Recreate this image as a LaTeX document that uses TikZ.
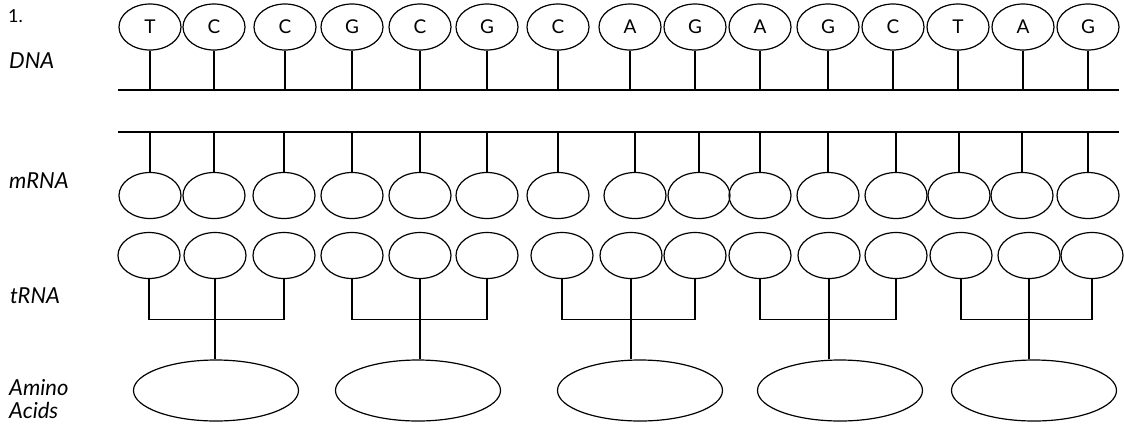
\documentclass[tikz,border=0pt]{standalone}
\usepackage{fontspec}
\setmainfont{Lato}
\usetikzlibrary{shapes.geometric}
\begin{document}
\begin{tikzpicture}[x=1pt,y=-1pt]
    \tikzstyle{nucleo}=[draw,line width=1.2pt,ellipse,inner sep=0pt,minimum width=62pt,minimum height=46pt,font=\fontsize{19}{19}\selectfont]
    \tikzstyle{amino}=[draw,line width=1.2pt,ellipse,inner sep=0pt,minimum width=165pt,minimum height=61pt]
    \tikzstyle{rowname}=[anchor=base west,inner sep=0pt,font=\fontsize{22}{22}\selectfont\itshape]
    \tikzstyle{strand}=[line width=1.2pt]

    \useasboundingbox (0,0) rectangle (1124,424);

    \node[anchor=base west,inner sep=0pt,font=\fontsize{18}{18}\selectfont] (num) at (8,22) {1.};
    \node[rowname] (dnalab) at (9,68) {DNA};
    \node[rowname] (mrnalab) at (9,188) {mRNA};
    \node[rowname] (trnalab) at (10,303) {tRNA};
    \node[rowname] (aminolab) at (9,395) {Amino};
    \node[rowname] (acidslab) at (9,418) {Acids};

    % the two strands
    \coordinate (dnaL) at (118,90);
    \coordinate (dnaR) at (1119,90);
    \coordinate (rnaL) at (118,132);
    \coordinate (rnaR) at (1119,132);
    \draw[strand] (dnaL) -- (dnaR);
    \draw[strand] (rnaL) -- (rnaR);

    % DNA bases
    \foreach \x/\b [count=\i] in {150/T,214/C,285/C,352/G,420/C,487/G,558/C,630/A,695/G,760/A,828/G,893/C,958/T,1023/A,1088/G}
        \node[nucleo] (d\i) at (\x,27) {\b};

    % mRNA bases
    \foreach \x [count=\i] in {150,214,284,352,420,487,558,635,699,760,828,896,959,1022,1088}
        \node[nucleo] (m\i) at (\x,195.5) {};

    % tRNA bases
    \foreach \x [count=\i] in {149,215,284,352,420,487,562,631,695,760,829,896,961,1029,1092}
        \node[nucleo] (t\i) at (\x,255.5) {};

    % amino acids
    \foreach \x [count=\i] in {216,418,640,840,1034}
        \node[amino] (a\i) at (\x,390.5) {};

    \foreach \i in {1,...,15} {
        \draw[strand] (d\i.south) -- (d\i.south |- dnaL);
        \draw[strand] (m\i.north |- rnaL) -- (m\i.north);
    }

    \foreach \g/\l/\m/\r in {1/1/2/3,2/4/5/6,3/7/8/9,4/10/11/12,5/13/14/15} {
        \draw[strand] (t\l.south) -- ++(0,40) -| (t\r.south);
        \draw[strand] (t\m.south) -- (t\m.south |- a\g.north);
    }
\end{tikzpicture}
\end{document}
